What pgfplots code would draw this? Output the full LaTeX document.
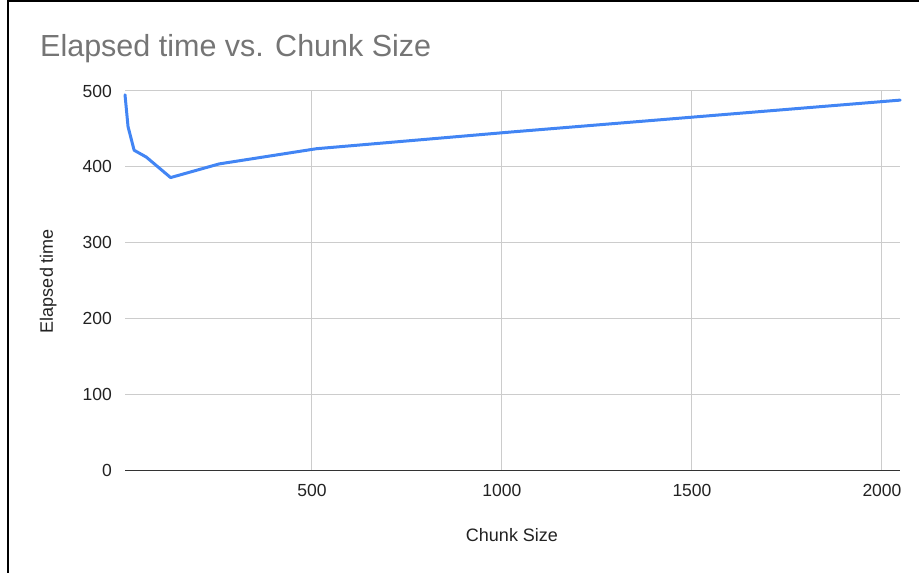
\documentclass[border=0pt]{standalone}
\usepackage{fontspec}
\setmainfont{Liberation Sans}
\usepackage{pgfplots}
\pgfplotsset{compat=1.18}
\definecolor{lineblue}{HTML}{4285F4}
\definecolor{gridgray}{HTML}{CCCCCC}
\definecolor{axisgray}{HTML}{333333}
\definecolor{titlegray}{HTML}{757575}
\definecolor{textdark}{HTML}{222222}
\begin{document}
\begin{tikzpicture}[x=1pt,y=1pt]
\path[use as bounding box] (0,0) rectangle (919,573);
\draw[black, line width=2pt] (8,0) -- (8,572) -- (919,572);
\begin{axis}[
  at={(125pt,102.3pt)}, anchor=south west,
  scale only axis, width=775.2pt, height=379.7pt,
  xmin=8, xmax=2048, ymin=0, ymax=500,
  xtick={500,1000,1500,2000},
  ytick={0,100,200,300,400,500},
  axis line style={draw=none},
  tick style={draw=none},
  grid=major,
  major grid style={draw=gridgray, line width=1pt},
  extra y ticks={0},
  extra y tick labels={},
  extra y tick style={grid=major, major grid style={draw=axisgray, line width=1.3pt}},
  /pgf/number format/assume math mode=true,
  /pgf/number format/1000 sep={},
  xticklabel style={font=\fontsize{17.5}{21}\selectfont, text=textdark, inner sep=0pt, anchor=north, yshift=-13pt},
  yticklabel style={font=\fontsize{17.5}{21}\selectfont, text=textdark, inner sep=0pt, anchor=east, xshift=-13pt},
  clip=false,
]
\addplot[lineblue, line width=3pt, line join=round, line cap=round, mark=none] coordinates {
  (8,495) (16,453) (32,422) (64,413) (128,386) (256,404) (512,424) (1024,446) (2048,488)
};
\end{axis}
\node[anchor=base west, text=titlegray, inner sep=0pt, font=\fontsize{30.5}{36}\selectfont] at (40,516) {Elapsed time vs. Chunk Size};
\node[anchor=base, rotate=90, text=textdark, inner sep=0pt, font=\fontsize{18}{21}\selectfont] at (53,292) {Elapsed time};
\node[anchor=base, text=textdark, inner sep=0pt, font=\fontsize{18}{21}\selectfont] at (512,31) {Chunk Size};
\end{tikzpicture}
\end{document}
